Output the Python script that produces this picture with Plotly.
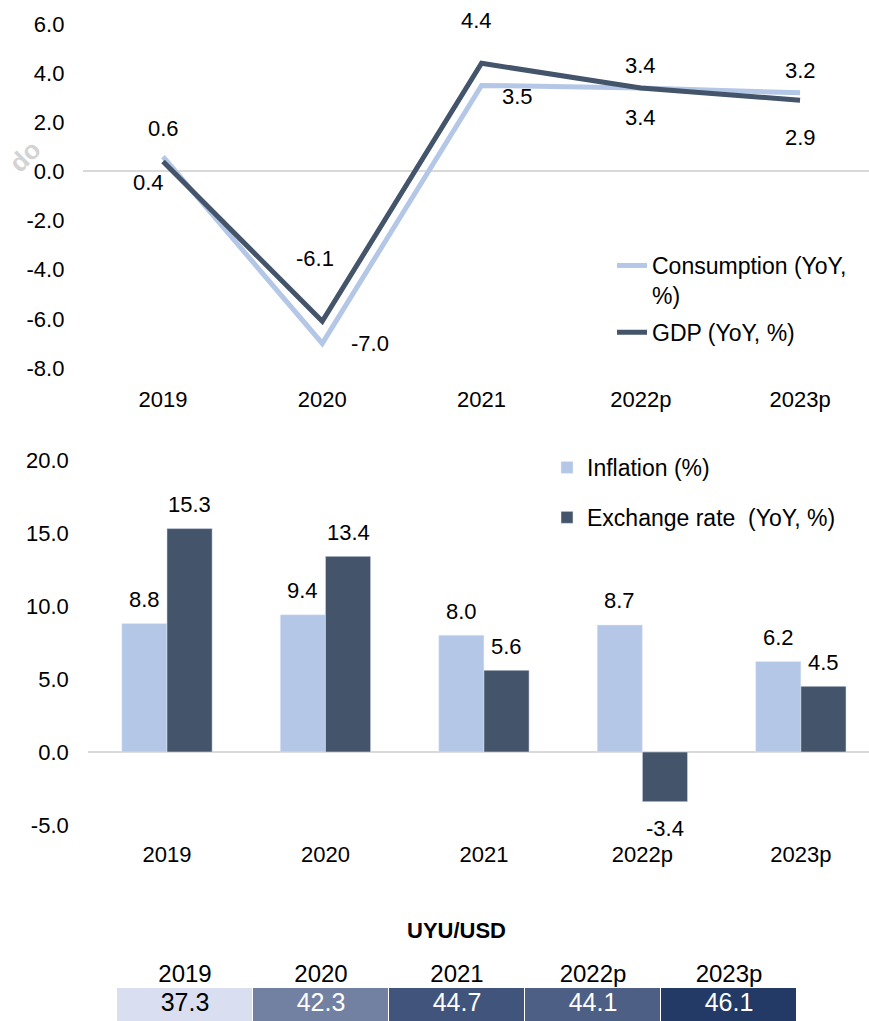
import plotly.graph_objects as go

# ---------------- data ----------------
years = ["2019", "2020", "2021", "2022p", "2023p"]
consumption = [0.6, -7.0, 3.5, 3.4, 3.2]
gdp = [0.4, -6.1, 4.4, 3.4, 2.9]
inflation = [8.8, 9.4, 8.0, 8.7, 6.2]
exchange = [15.3, 13.4, 5.6, -3.4, 4.5]
uyu_usd = [37.3, 42.3, 44.7, 44.1, 46.1]
line_ticks = [-8, -6, -4, -2, 0, 2, 4, 6]
bar_ticks = [-5, 0, 5, 10, 15, 20]

# ---------------- style ----------------
W, H = 869, 1021
FONT = "Liberation Sans, Arial, sans-serif"
LIGHT = "#B4C7E7"
DARK = "#44546A"
ZERO = "#D9D9D9"
cell_text_colors = ["black", "white", "white", "white", "white"]

def px_x(p):
    return p / W

def px_y(p):
    return 1 - p / H

fig = go.Figure()

# ---- line chart ----
fig.add_trace(go.Scatter(x=years, y=consumption, mode="lines",
                         line=dict(color=LIGHT, width=5),
                         name="Consumption (YoY,<br>%)",
                         legend="legend", legendgroup="c"))
fig.add_trace(go.Scatter(x=years, y=gdp, mode="lines",
                         line=dict(color=DARK, width=5),
                         name="GDP (YoY, %)",
                         legend="legend", legendgroup="g"))

cons_off = [(0, 28), (48, 0), (36, -11), (0, -30), (0, 22)]
gdp_off = [(-15, -21), (-7, 63), (-5, 43), (0, 22), (0, -37)]
ann = []
for series, offs in ((consumption, cons_off), (gdp, gdp_off)):
    for i, (v, (dx, dy)) in enumerate(zip(series, offs)):
        ann.append(dict(x=i, y=v, xref="x", yref="y", text=f"{v:.1f}",
                        showarrow=False, xshift=dx, yshift=dy,
                        xanchor="center", yanchor="middle",
                        font=dict(family=FONT, size=22, color="black")))

# ---- bar chart ----
fig.add_trace(go.Bar(x=years, y=inflation, marker_color=LIGHT,
                     name="Inflation (%)", xaxis="x2", yaxis="y2",
                     legend="legend2", legendgroup="i"))
fig.add_trace(go.Bar(x=years, y=exchange, marker_color=DARK,
                     name="Exchange rate  (YoY, %)", xaxis="x2", yaxis="y2",
                     legend="legend2", legendgroup="e"))

half_bar = 22.6
for series, dx in ((inflation, -half_bar), (exchange, half_bar)):
    for i, v in enumerate(series):
        ann.append(dict(x=i, y=v, xref="x2", yref="y2", text=f"{v:.1f}",
                        showarrow=False, xshift=dx,
                        yshift=24 if v >= 0 else -27,
                        xanchor="center", yanchor="middle",
                        font=dict(family=FONT, size=22, color="black")))

# ---- UYU/USD table as heatmap + text ----
fig.add_trace(go.Heatmap(x=years, y=["UYU/USD"], z=[uyu_usd],
                         xaxis="x3", yaxis="y3",
                         colorscale=[[0, "#D9DFF0"], [1, "#243A66"]],
                         zmin=min(uyu_usd), zmax=max(uyu_usd),
                         showscale=False, xgap=1,
                         hoverinfo="skip", showlegend=False))
fig.add_trace(go.Scatter(x=years, y=["UYU/USD"] * len(years), mode="text",
                         text=[f"{v:.1f}" for v in uyu_usd],
                         textposition="middle center",
                         textfont=dict(family=FONT, size=25,
                                       color=cell_text_colors),
                         xaxis="x3", yaxis="y3", showlegend=False,
                         hoverinfo="skip", cliponaxis=False))

ann.append(dict(x=px_x(456), y=px_y(930), xref="paper", yref="paper",
                text="<b>UYU/USD</b>", showarrow=False,
                xanchor="center", yanchor="middle",
                font=dict(family=FONT, size=22, color="black")))

# watermark fragment
ann.append(dict(x=px_x(25), y=px_y(156), xref="paper", yref="paper",
                text="<b>do</b>", showarrow=False, textangle=-45,
                xanchor="center", yanchor="middle",
                font=dict(family=FONT, size=26, color="#D3D3D3")))

tickfont = dict(family=FONT, size=22, color="black")

fig.update_layout(
    width=W, height=H,
    margin=dict(l=0, r=0, t=0, b=0),
    paper_bgcolor="white", plot_bgcolor="white",
    showlegend=True,
    barmode="group", bargap=0.43, bargroupgap=0,
    annotations=ann,
    xaxis=dict(domain=[px_x(83.4), 1], range=[-0.5, 4.433], type="category",
               showgrid=False, zeroline=False, showline=False, ticks="",
               tickfont=tickfont, ticklabelstandoff=16, automargin=False,
               anchor="y"),
    yaxis=dict(domain=[px_y(368), px_y(24)], range=[-8, 6],
               tickvals=line_ticks, ticktext=[f"{t:.1f}" for t in line_ticks],
               showgrid=False, zeroline=True,
               zerolinecolor=ZERO, zerolinewidth=2, showline=False,
               tickfont=tickfont, ticklabelstandoff=18, automargin=False,
               anchor="x"),
    xaxis2=dict(domain=[px_x(87.75), 1], range=[-0.5, 4.43], type="category",
                showgrid=False, zeroline=False, showline=False, ticks="",
                tickfont=tickfont, ticklabelstandoff=14, automargin=False,
                anchor="y2"),
    yaxis2=dict(domain=[px_y(825), px_y(460)], range=[-5, 20],
                tickvals=bar_ticks, ticktext=[f"{t:.1f}" for t in bar_ticks],
                showgrid=False, zeroline=True,
                zerolinecolor=ZERO, zerolinewidth=2, showline=False,
                tickfont=tickfont, ticklabelstandoff=18, automargin=False,
                anchor="x2"),
    xaxis3=dict(domain=[px_x(117), px_x(797)], side="top", type="category",
                range=[-0.5, 4.5],
                showgrid=False, zeroline=False, showline=False, ticks="",
                tickfont=dict(family=FONT, size=24, color="black"),
                automargin=False, anchor="y3"),
    yaxis3=dict(domain=[0, px_y(988)], showticklabels=False, showgrid=False,
                type="category", range=[-0.5, 0.5],
                zeroline=False, showline=False, automargin=False, anchor="x3"),
    legend=dict(x=px_x(612), y=px_y(244), xanchor="left", yanchor="top",
                bgcolor="rgba(0,0,0,0)", valign="top", tracegroupgap=4,
                font=dict(family=FONT, size=23, color="black")),
    legend2=dict(x=px_x(547), y=px_y(446), xanchor="left", yanchor="top",
                 bgcolor="rgba(0,0,0,0)", tracegroupgap=17,
                 font=dict(family=FONT, size=23, color="black")),
)

fig.write_html(
    "out.html",
    config={"displayModeBar": False},
    post_script="document.body.style.margin='0';"
                "document.body.style.overflow='hidden';"
                "document.documentElement.style.overflow='hidden';",
)
